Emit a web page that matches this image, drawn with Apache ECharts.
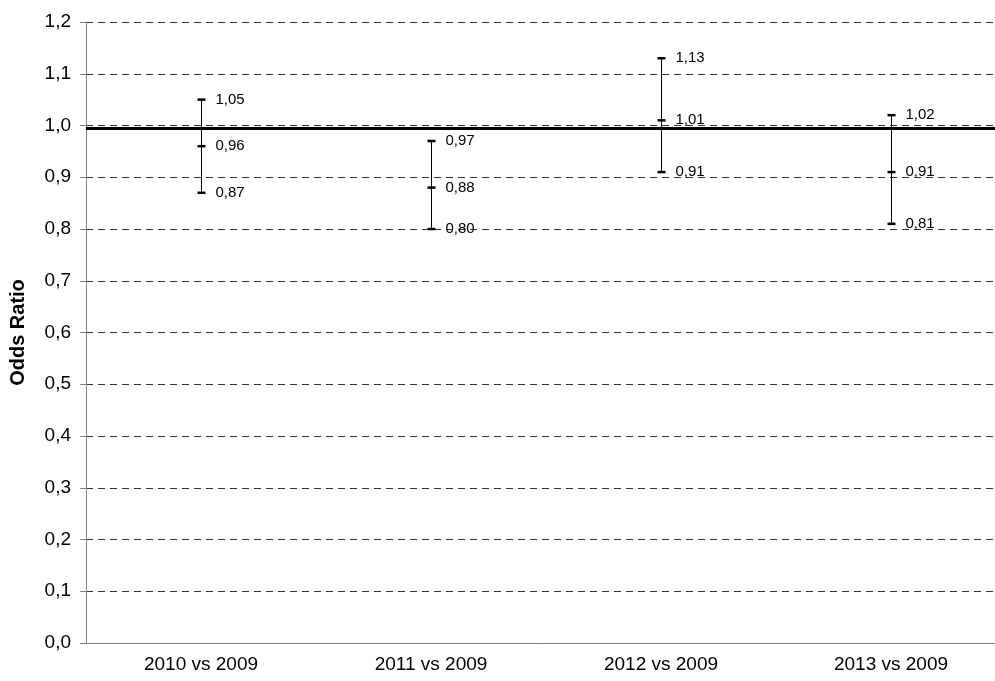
<!DOCTYPE html>
<html lang="en">
<head>
    <meta charset="UTF-8">
    <title>Odds Ratio</title>
    <script src="https://cdn.jsdelivr.net/npm/echarts@6/dist/echarts.min.js"></script>
</head>
<body style="margin:0">
<div id="main" style="width: 995px;height:681px;"></div>
<script type="text/javascript">
    // categories and odds ratios (lower, estimate, upper)
    var categories = ["2010 vs 2009", "2011 vs 2009", "2012 vs 2009", "2013 vs 2009"];
    var lower = [0.87, 0.80, 0.91, 0.81];
    var estimate = [0.96, 0.88, 1.01, 0.91];
    var upper = [1.05, 0.97, 1.13, 1.02];
    var refLine = 0.995;

    var fmt = function (v) {
        return v.toFixed(2).replace('.', ',');
    };

    var barData = categories.map(function (c, i) {
        return [i, lower[i], estimate[i], upper[i]];
    });

    var myChart = echarts.init(document.getElementById('main'));
    var labelFont = '15px "Liberation Sans", Arial, sans-serif';

    myChart.setOption({
        animation: false,
        grid: {left: 86, top: 22, width: 920, height: 621, outerBoundsMode: 'none', containLabel: false},
        xAxis: [
            {
                type: 'category',
                data: categories,
                axisLine: {lineStyle: {color: '#808080', width: 1}},
                axisTick: {length: 5, lineStyle: {color: '#666'}},
                axisLabel: {color: '#000', fontSize: 19, fontFamily: 'Liberation Sans', margin: 12}
            },
            {
                type: 'category',
                data: categories,
                position: 'bottom',
                axisLine: {show: false},
                axisTick: {inside: true, length: 5, lineStyle: {color: '#666'}},
                axisLabel: {show: false}
            }
        ],
        yAxis: {
            type: 'value',
            min: 0,
            max: 1.2,
            interval: 0.1,
            name: 'Odds Ratio',
            nameLocation: 'middle',
            nameRotate: 90,
            nameGap: 58,
            nameTextStyle: {color: '#000', fontSize: 20, fontWeight: 'bold', fontFamily: 'Liberation Sans'},
            axisLine: {show: true, lineStyle: {color: '#808080'}},
            axisTick: {show: true, length: 6, lineStyle: {color: '#808080'}},
            axisLabel: {
                color: '#000', fontSize: 19, fontFamily: 'Liberation Sans', margin: 15,
                formatter: function (v) { return v.toFixed(1).replace('.', ','); }
            },
            splitLine: {lineStyle: {color: '#333', type: [7, 5], width: 1}}
        },
        series: [
            {
                type: 'line',
                data: [],
                markLine: {
                    silent: true,
                    symbol: 'none',
                    precision: 3,
                    label: {show: false},
                    lineStyle: {color: '#000', width: 3, type: 'solid'},
                    data: [{yAxis: refLine}]
                }
            },
            {
                type: 'custom',
                data: barData,
                renderItem: function (params, api) {
                    var lo = api.coord([api.value(0), api.value(1)]);
                    var mid = api.coord([api.value(0), api.value(2)]);
                    var hi = api.coord([api.value(0), api.value(3)]);
                    var x = Math.round(lo[0]) + 0.5;
                    var children = [{
                        type: 'line',
                        shape: {x1: x, y1: lo[1], x2: x, y2: hi[1]},
                        style: {stroke: '#000', lineWidth: 1}
                    }];
                    [[lo, api.value(1)], [mid, api.value(2)], [hi, api.value(3)]].forEach(function (p) {
                        children.push({
                            type: 'line',
                            shape: {x1: x - 4, y1: p[0][1], x2: x + 4, y2: p[0][1]},
                            style: {stroke: '#000', lineWidth: 2.5}
                        });
                        children.push({
                            type: 'text',
                            style: {
                                text: fmt(p[1]), x: x + 14, y: p[0][1],
                                fill: '#000', font: labelFont, align: 'left', verticalAlign: 'middle'
                            }
                        });
                    });
                    return {type: 'group', children: children};
                }
            }
        ]
    });
</script>
</body>
</html>
